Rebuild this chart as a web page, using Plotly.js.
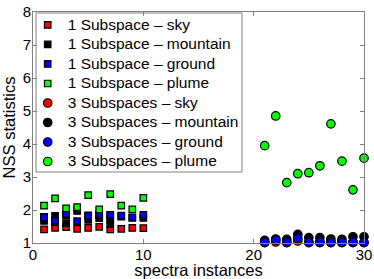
<!DOCTYPE html>
<html>
<head>
<meta charset="utf-8">
<script src="https://cdn.plot.ly/plotly-3.0.1.min.js"></script>
<style>
html,body{margin:0;padding:0;background:#fff;}
.legendtext{font-size:15.5px !important;}
</style>
</head>
<body>
<div id="chart" style="width:374px;height:279px;"></div>
<script>
// 1 Subspace (spectra instances 1..10)
const x1 = [1, 2, 3, 4, 5, 6, 7, 8, 9, 10];
const sky1 = [1.41, 1.46, 1.48, 1.43, 1.46, 1.49, 1.41, 1.43, 1.46, 1.45];
const mountain1X = [1, 1, 2, 2, 3, 3, 4, 5, 5, 6, 6, 7, 7, 7, 8, 9, 10];
const mountain1 = [1.79, 1.67, 1.82, 1.63, 1.84, 1.60, 1.97, 1.84, 1.70, 1.84, 1.75, 1.84, 1.70, 1.57, 1.80, 1.76, 1.76];
const ground1 = [1.78, 1.67, 1.88, 1.66, 1.82, 1.87, 1.85, 1.83, 1.78, 1.85];
const plume1 = [2.13, 2.35, 2.05, 2.09, 2.45, 2.02, 2.48, 2.13, 2.02, 2.37];

// 3 Subspaces (spectra instances 21..30)
const x3 = [21, 22, 23, 24, 25, 26, 27, 28, 29, 30];
const sky3 = [1.01, 1.03, 1.01, 1.06, 1.01, 1.01, 1.01, 1.01, 1.01, 1.01];
const mountain3 = [1.08, 1.12, 1.11, 1.26, 1.16, 1.16, 1.12, 1.11, 1.19, 1.19];
const ground3 = [1.02, 1.09, 1.02, 1.14, 1.02, 1.03, 1.02, 1.02, 1.03, 1.02];
const plume3 = [3.95, 4.85, 2.83, 3.10, 3.13, 3.34, 4.61, 3.48, 2.61, 3.57];

// axis ticks
const xTicks = [0, 10, 20, 30];
const yTicks = [1, 2, 3, 4, 5, 6, 7, 8];

const names = [
  '1 Subspace \u2013 sky', '1 Subspace \u2013 mountain', '1 Subspace \u2013 ground', '1 Subspace \u2013 plume',
  '3 Subspaces \u2013 sky', '3 Subspaces \u2013 mountain', '3 Subspaces \u2013 ground', '3 Subspaces \u2013 plume'
];
const colors = ['#ff0000', '#000000', '#0000ff', '#00ff00'];

function tr(x, y, i, sym) {
  return {
    x: x, y: y, type: 'scatter', mode: 'markers', cliponaxis: false,
    name: names[i],
    marker: {
      symbol: sym, size: sym === 'square' ? 6.5 : 8.5,
      color: colors[i % 4], line: {color: '#000', width: 1.2}
    }
  };
}

const data = [
  tr(x1, sky1, 0, 'square'),
  tr(mountain1X, mountain1, 1, 'square'),
  tr(x1, ground1, 2, 'square'),
  tr(x1, plume1, 3, 'square'),
  tr(x3, sky3, 4, 'circle'),
  tr(x3, mountain3, 5, 'circle'),
  tr(x3, ground3, 6, 'circle'),
  tr(x3, plume3, 7, 'circle')
];

const fam = '"Liberation Sans", Arial, sans-serif';
const tickFont = {family: fam, size: 15, color: '#000'};
const titleFont = {family: fam, size: 16.5, color: '#000'};

const layout = {
  width: 374, height: 279,
  margin: {l: 33, r: 10, t: 12, b: 36, pad: 0},
  paper_bgcolor: '#fff', plot_bgcolor: '#fff',
  font: tickFont,
  showlegend: true,
  xaxis: {
    range: [0, 30], tickvals: xTicks,
    ticks: 'inside', ticklen: 4, tickcolor: '#808080', ticklabelstandoff: -2,
    showline: true, linecolor: '#808080', linewidth: 1, mirror: 'allticks',
    showgrid: false, zeroline: false, tickfont: tickFont,
    title: {text: 'spectra instances', font: titleFont, standoff: 0}
  },
  yaxis: {
    range: [1, 8], tickvals: yTicks,
    ticks: 'inside', ticklen: 4, tickcolor: '#808080', ticklabelstandoff: -2,
    showline: true, linecolor: '#808080', linewidth: 1, mirror: 'allticks',
    showgrid: false, zeroline: false, tickfont: tickFont,
    title: {text: 'NSS statistics', font: titleFont, standoff: 2}
  },
  legend: {
    x: -0.016, y: 1.0078, xanchor: 'left', yanchor: 'top',
    bgcolor: 'rgba(0,0,0,0)', borderwidth: 0, maxheight: 260,
    font: {family: fam, size: 12.7, color: '#000'},
    tracegroupgap: 0, itemwidth: 30
  },
  shapes: [{
    type: 'rect', xref: 'paper', yref: 'paper', layer: 'below',
    x0: 0.00906, x1: 0.6314, y0: 0.3074, y1: 0.9957,
    line: {color: '#808080', width: 1}, fillcolor: '#ffffff'
  }]
};

Plotly.newPlot('chart', data, layout, {displayModeBar: false, staticPlot: true});
</script>
</body>
</html>
